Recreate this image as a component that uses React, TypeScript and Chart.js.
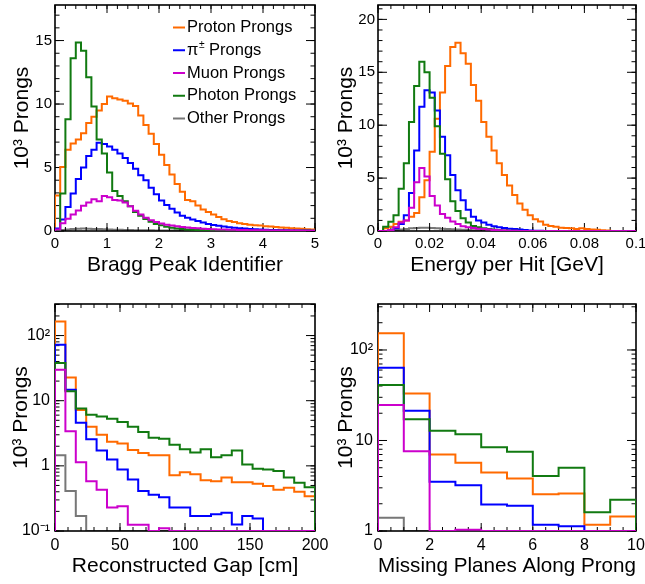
import React, { useEffect, useRef } from "react";
import { Chart, registerables } from "chart.js";

Chart.register(...registerables);

const FONT = "'Liberation Sans', Arial, Helvetica, sans-serif";
const PAGE_W = 645;
const PAGE_H = 584;

// ---------------- series (legend order) ----------------
const seriesNames = ["Proton Prongs", "π± Prongs", "Muon Prongs", "Photon Prongs", "Other Prongs"];
const seriesColors = ["#ff6a00", "#0000ff", "#cc00cc", "#117a11", "#777777"];
// higher = drawn earlier (underneath). "Other" is drawn first, then the frame, then the rest.
const seriesDrawOrder = [4, 3, 1, 2, 5];
const frameAfterSeries = 4;

// ---------------- Panel 1: Bragg Peak Identifier (bins of 0.1 from 0) ----------------
const braggBinStart = 0;
const braggBinWidth = 0.1;
const braggProton = [2.8, 5.05, 6.4, 6.9, 7.2, 7.7, 8.5, 9.0, 9.5, 10.0, 10.6, 10.45, 10.35, 10.25, 10.05, 9.85, 9.1, 8.35, 7.65, 6.85, 6.0, 5.2, 4.45, 3.7, 3.1, 2.45, 2.35, 2.0, 1.7, 1.5, 1.3, 1.1, 0.92, 0.78, 0.7, 0.62, 0.56, 0.5, 0.46, 0.43, 0.38, 0.35, 0.31, 0.28, 0.25, 0.22, 0.2, 0.17, 0.14, 0.12];
const braggPion = [0.2, 0.9, 1.9, 2.95, 4.1, 5.0, 5.9, 6.4, 6.95, 6.85, 6.65, 6.4, 6.1, 5.75, 5.35, 4.9, 4.4, 4.0, 3.4, 2.9, 2.4, 2.05, 1.75, 1.45, 1.2, 1.05, 0.9, 0.78, 0.66, 0.56, 0.48, 0.42, 0.36, 0.3, 0.26, 0.22, 0.19, 0.16, 0.13, 0.11, 0.09, 0.08, 0.07, 0.06, 0.05, 0.04, 0.04, 0.03, 0.03, 0.02];
const braggMuon = [0.12, 0.62, 0.97, 1.3, 1.62, 1.98, 2.24, 2.5, 2.35, 2.75, 2.65, 2.45, 2.4, 2.25, 1.95, 1.6, 1.3, 1.05, 0.85, 0.7, 0.6, 0.5, 0.43, 0.37, 0.32, 0.28, 0.24, 0.21, 0.18, 0.16, 0.14, 0.12, 0.11, 0.1, 0.09, 0.08, 0.07, 0.06, 0.06, 0.05, 0.05, 0.04, 0.04, 0.04, 0.03, 0.03, 0.03, 0.02, 0.02, 0.02];
const braggPhoton = [0.05, 2.95, 8.8, 13.6, 14.85, 14.2, 12.1, 9.8, 7.2, 6.1, 4.6, 3.15, 2.75, 2.35, 1.95, 1.5, 1.2, 0.95, 0.72, 0.55, 0.45, 0.34, 0.26, 0.2, 0.15, 0.12, 0.1, 0.08, 0.07, 0.06, 0.05, 0.04, 0.04, 0.03, 0.03, 0.02, 0.02, 0.02, 0.01, 0.01, 0.01, 0.01, 0.01, 0.01, 0.01, 0.01, 0.01, 0.01, 0.01, 0.01];
const braggOther = [0.04, 0.08, 0.12, 0.15, 0.17, 0.19, 0.18, 0.16, 0.15, 0.13, 0.12, 0.1, 0.09, 0.08, 0.07, 0.06, 0.06, 0.05, 0.05, 0.04, 0.04, 0.03, 0.03, 0.03, 0.02, 0.02, 0.02, 0.02, 0.02, 0.01, 0.01, 0.01, 0.01, 0.01, 0.01, 0.01, 0.01, 0.01, 0.01, 0.01, 0.01, 0.01, 0.01, 0.01, 0.01, 0.01, 0.01, 0.01, 0.01, 0.01];
const braggXTicks = [0, 1, 2, 3, 4, 5];
const braggXLabels = ["0", "1", "2", "3", "4", "5"];
const braggYTicks = [0, 5, 10, 15];
const braggYLabels = ["0", "5", "10", "15"];

// ---------------- Panel 2: Energy per Hit (bins of 0.002 GeV from 0) ----------------
const energyBinStart = 0;
const energyBinWidth = 0.002;
const energyProton = [0, 0.25, 0.4, 0.65, 0.88, 1.0, 1.35, 1.7, 3.2, 4.8, 7.5, 10.6, 13.1, 15.6, 17.4, 17.8, 16.8, 15.8, 13.8, 12.3, 10.3, 8.9, 7.6, 6.4, 5.3, 4.3, 3.4, 2.6, 2.0, 1.5, 1.1, 0.9, 0.6, 0.47, 0.4, 0.3, 0.28, 0.25, 0.2, 0.25, 0.2, 0.15, 0.12, 0.08, 0.05, 0, 0, 0, 0, 0];
const energyPion = [0, 0, 0.05, 0.25, 0.65, 1.5, 3.6, 7.6, 11.75, 13.3, 13.1, 11.4, 8.9, 7.15, 5.3, 3.85, 2.9, 2.0, 1.35, 1.0, 0.8, 0.6, 0.45, 0.35, 0.28, 0.22, 0.18, 0.14, 0.1, 0.05, 0.03, 0.02, 0.01, 0, 0, 0, 0, 0, 0, 0, 0, 0, 0, 0, 0, 0, 0, 0, 0, 0];
const energyMuon = [0, 0, 0.1, 0.35, 0.8, 1.0, 2.2, 4.6, 5.95, 5.15, 3.3, 2.4, 1.6, 1.25, 0.9, 0.65, 0.45, 0.35, 0.28, 0.22, 0.18, 0.14, 0.1, 0.07, 0.05, 0.03, 0.02, 0.01, 0, 0, 0, 0, 0, 0, 0, 0, 0, 0, 0, 0, 0, 0, 0, 0, 0, 0, 0, 0, 0, 0];
const energyPhoton = [0, 0.4, 0.88, 1.5, 4.0, 6.4, 10.3, 13.7, 16.0, 15.0, 12.6, 9.9, 7.3, 4.9, 2.8, 1.9, 1.2, 0.8, 0.47, 0.35, 0.25, 0.18, 0.12, 0.08, 0.05, 0.03, 0.02, 0.01, 0, 0, 0, 0, 0, 0, 0, 0, 0, 0, 0, 0, 0, 0, 0, 0, 0, 0, 0, 0, 0, 0];
const energyOther = [0, 0, 0.05, 0.1, 0.15, 0.2, 0.25, 0.28, 0.3, 0.3, 0.28, 0.25, 0.22, 0.2, 0.17, 0.15, 0.12, 0.1, 0.08, 0.06, 0.05, 0.04, 0.03, 0.02, 0.02, 0.01, 0.01, 0, 0, 0, 0, 0, 0, 0, 0, 0, 0, 0, 0, 0, 0, 0, 0, 0, 0, 0, 0, 0, 0, 0];
const energyXTicks = [0, 0.02, 0.04, 0.06, 0.08, 0.1];
const energyXLabels = ["0", "0.02", "0.04", "0.06", "0.08", "0.1"];
const energyYTicks = [0, 5, 10, 15, 20];
const energyYLabels = ["0", "5", "10", "15", "20"];

// ---------------- Panel 3: Reconstructed Gap (bins of 8 cm from 0) ----------------
const gapBinStart = 0;
const gapBinWidth = 8;
const gapProton = [164, 22.7, 7.2, 4.0, 3.0, 2.35, 2.2, 1.75, 1.58, 1.45, 1.45, 0.72, 0.8, 0.74, 0.6, 0.58, 0.66, 0.56, 0.56, 0.53, 0.49, 0.43, 0.46, 0.4, 0.34];
const gapPion = [72, 14.7, 4.6, 2.55, 1.72, 1.25, 0.88, 0.62, 0.41, 0.36, 0.33, 0.23, 0.23, 0.17, 0.17, 0.18, 0.19, 0.126, 0.17, 0.155, 0.05, 0.04, 0.03, 0.03, 0.02];
const gapMuon = [29.8, 3.4, 1.14, 0.58, 0.43, 0.23, 0.24, 0.125, 0.125, 0.09, 0.11, 0.08, 0.06, 0.05, 0.04, 0.03, 0.03, 0.02, 0.02, 0.02, 0.01, 0.01, 0.01, 0.01, 0.01];
const gapPhoton = [37.8, 14, 7.6, 6.1, 5.7, 5.3, 4.7, 4.0, 3.3, 2.7, 2.6, 2.1, 1.8, 1.6, 1.8, 1.35, 1.45, 1.72, 1.05, 0.9, 0.88, 0.83, 0.66, 0.55, 0.47];
const gapOther = [1.45, 0.41, 0.17, 0.08, 0.06, 0.05, 0.04, 0.03, 0.03, 0.02, 0.02, 0.02, 0.01, 0.01, 0.01, 0.01, 0.01, 0.01, 0.01, 0.01, 0.01, 0.01, 0.01, 0.01, 0.01];
const gapXTicks = [0, 50, 100, 150, 200];
const gapXLabels = ["0", "50", "100", "150", "200"];
const gapYTicks = [0.1, 1, 10, 100];
const gapYLabels = ["10⁻¹", "1", "10", "10²"];

// ---------------- Panel 4: Missing Planes Along Prong (bins of 1 from 0) ----------------
const planesBinStart = 0;
const planesBinWidth = 1;
const planesProton = [153, 33, 7.0, 5.66, 4.43, 3.8, 2.55, 2.59, 1.17, 1.45];
const planesPion = [63.7, 21.3, 3.49, 3.2, 1.96, 1.9, 1.17, 1.13, 0.5, 0.4];
const planesMuon = [24.6, 7.6, 0.5, 1.03, 0.5, 0.3, 0.2, 0.2, 0.1, 0.1];
const planesPhoton = [41, 17.2, 12.8, 11.7, 8.4, 7.5, 4.06, 5.0, 1.61, 2.22];
const planesOther = [1.4, 0.3, 0.1, 0.05, 0.03, 0.02, 0.01, 0.01, 0.01, 0.01];
const planesXTicks = [0, 2, 4, 6, 8, 10];
const planesXLabels = ["0", "2", "4", "6", "8", "10"];
const planesYTicks = [1, 10, 100];
const planesYLabels = ["1", "10", "10²"];

// ---------------- panel specs (layout + style) ----------------
type Area = { l: number; r: number; t: number; b: number };
type PanelSpec = {
  binStart: number;
  binWidth: number;
  series: number[][];
  xMin: number; xMax: number; yMin: number; yMax: number; yLog: boolean;
  xTicks: number[]; xLabels: string[]; yTicks: number[]; yLabels: string[];
  xMinorStep: number; yMinorStep: number;
  xTitle: string; yTitle: string;
  area: Area; yTitleX: number; xTitleY: number;
  tickFont: number; xLabelPad: number; yLabelPad: number;
  legend: boolean;
};

const panels: PanelSpec[] = [
  {
    binStart: braggBinStart, binWidth: braggBinWidth,
    series: [braggProton, braggPion, braggMuon, braggPhoton, braggOther],
    xMin: 0, xMax: 5, yMin: 0, yMax: 17.8, yLog: false,
    xTicks: braggXTicks, xLabels: braggXLabels, yTicks: braggYTicks, yLabels: braggYLabels,
    xMinorStep: 0.2, yMinorStep: 1,
    xTitle: "Bragg Peak Identifier", yTitle: "10³ Prongs",
    area: { l: 55, r: 315, t: 5, b: 231 }, yTitleX: 22.5, xTitleY: 265,
    tickFont: 15, xLabelPad: 3.5, yLabelPad: 3, legend: true,
  },
  {
    binStart: energyBinStart, binWidth: energyBinWidth,
    series: [energyProton, energyPion, energyMuon, energyPhoton, energyOther],
    xMin: 0, xMax: 0.1, yMin: 0, yMax: 21.36, yLog: false,
    xTicks: energyXTicks, xLabels: energyXLabels, yTicks: energyYTicks, yLabels: energyYLabels,
    xMinorStep: 0.005, yMinorStep: 1,
    xTitle: "Energy per Hit [GeV]", yTitle: "10³ Prongs",
    area: { l: 378, r: 636, t: 5, b: 231 }, yTitleX: 346, xTitleY: 265,
    tickFont: 15, xLabelPad: 3.5, yLabelPad: 3, legend: false,
  },
  {
    binStart: gapBinStart, binWidth: gapBinWidth,
    series: [gapProton, gapPion, gapMuon, gapPhoton, gapOther],
    xMin: 0, xMax: 200, yMin: 0.1, yMax: 305, yLog: true,
    xTicks: gapXTicks, xLabels: gapXLabels, yTicks: gapYTicks, yLabels: gapYLabels,
    xMinorStep: 10, yMinorStep: 0,
    xTitle: "Reconstructed Gap [cm]", yTitle: "10³ Prongs",
    area: { l: 55, r: 315, t: 304, b: 531 }, yTitleX: 21, xTitleY: 566,
    tickFont: 16, xLabelPad: 4.5, yLabelPad: 5, legend: false,
  },
  {
    binStart: planesBinStart, binWidth: planesBinWidth,
    series: [planesProton, planesPion, planesMuon, planesPhoton, planesOther],
    xMin: 0, xMax: 10, yMin: 1, yMax: 322, yLog: true,
    xTicks: planesXTicks, xLabels: planesXLabels, yTicks: planesYTicks, yLabels: planesYLabels,
    xMinorStep: 0.5, yMinorStep: 0,
    xTitle: "Missing Planes Along Prong", yTitle: "10³ Prongs",
    area: { l: 378, r: 636, t: 304, b: 531 }, yTitleX: 346, xTitleY: 566,
    tickFont: 16, xLabelPad: 4.5, yLabelPad: 5, legend: false,
  },
];

const LEGEND = { y0: 27.5, dy: 22.75, lineX0: 173, lineX1: 185, textX: 187, size: 16.5 };
const TITLE_SIZE = 21;

// ---------------- helpers ----------------
function stepPoints(start: number, width: number, values: number[], base: number) {
  const pts: { x: number; y: number }[] = [{ x: start, y: base }];
  values.forEach((v, i) => pts.push({ x: start + i * width, y: Math.max(v, base) }));
  const end = start + values.length * width;
  pts.push({ x: end, y: Math.max(values[values.length - 1], base) });
  pts.push({ x: end, y: base });
  return pts;
}

function linearMinors(min: number, max: number, step: number) {
  const out: number[] = [];
  const n = Math.floor((max - min) / step + 1e-6);
  for (let i = 0; i <= n; i++) out.push(min + i * step);
  return out;
}

function logMinors(min: number, max: number) {
  const out: number[] = [];
  for (let d = Math.floor(Math.log10(min)); d <= Math.ceil(Math.log10(max)); d++) {
    for (let k = 1; k <= 9; k++) {
      const v = k * Math.pow(10, d);
      if (v >= min * 0.9999 && v <= max * 1.0001) out.push(v);
    }
  }
  return out;
}

function drawFrame(chart: any, spec: PanelSpec) {
  const { ctx, chartArea: a, scales } = chart;
  const xs = scales.x;
  const ys = scales.y;
  const xMinor = linearMinors(spec.xMin, spec.xMax, spec.xMinorStep);
  const yMinor = spec.yLog ? logMinors(spec.yMin, spec.yMax) : linearMinors(spec.yMin, spec.yMax, spec.yMinorStep);
  ctx.save();
  ctx.strokeStyle = "#000";
  ctx.lineWidth = 1;
  ctx.beginPath();
  const tickX = (v: number, len: number) => {
    const px = xs.getPixelForValue(v);
    ctx.moveTo(px, a.bottom);
    ctx.lineTo(px, a.bottom - len);
    ctx.moveTo(px, a.top);
    ctx.lineTo(px, a.top + len);
  };
  const tickY = (v: number, len: number) => {
    const py = ys.getPixelForValue(v);
    ctx.moveTo(a.left, py);
    ctx.lineTo(a.left + len, py);
    ctx.moveTo(a.right, py);
    ctx.lineTo(a.right - len, py);
  };
  xMinor.forEach((v) => tickX(v, 4));
  spec.xTicks.forEach((v) => tickX(v, 8));
  yMinor.forEach((v) => tickY(v, 4.5));
  spec.yTicks.forEach((v) => tickY(v, 9));
  ctx.stroke();
  ctx.lineWidth = 1.6;
  ctx.strokeRect(a.left, a.top, a.right - a.left, a.bottom - a.top);
  ctx.restore();
}

function framePlugin(spec: PanelSpec) {
  return {
    id: "rootFrame",
    afterDatasetDraw(chart: any, args: any) {
      if (args.index === frameAfterSeries) drawFrame(chart, spec);
    },
  };
}

function legendPlugin() {
  return {
    id: "rootLegend",
    afterDraw(chart: any) {
      const ctx = chart.ctx;
      ctx.save();
      ctx.textBaseline = "middle";
      ctx.textAlign = "left";
      seriesNames.forEach((name, i) => {
        const y = LEGEND.y0 + i * LEGEND.dy;
        ctx.strokeStyle = seriesColors[i];
        ctx.lineWidth = 2;
        ctx.beginPath();
        ctx.moveTo(LEGEND.lineX0, y);
        ctx.lineTo(LEGEND.lineX1, y);
        ctx.stroke();
        ctx.fillStyle = "#000";
        ctx.font = `${LEGEND.size}px ${FONT}`;
        if (name.startsWith("π±")) {
          let x = LEGEND.textX;
          ctx.fillText("π", x, y);
          x += ctx.measureText("π").width + 0.5;
          ctx.font = `${LEGEND.size * 0.62}px ${FONT}`;
          ctx.fillText("±", x, y - LEGEND.size * 0.3);
          x += ctx.measureText("±").width;
          ctx.font = `${LEGEND.size}px ${FONT}`;
          ctx.fillText(name.slice(2), x, y);
        } else {
          ctx.fillText(name, LEGEND.textX, y);
        }
      });
      ctx.restore();
    },
  };
}

function Panel({ spec }: { spec: PanelSpec }) {
  const ref = useRef<HTMLCanvasElement | null>(null);
  useEffect(() => {
    if (!ref.current) return;
    const half = (TITLE_SIZE * 1.2) / 2;
    const padLeft = spec.yTitleX - half;
    const yAxisWidth = spec.area.l - padLeft;
    const xAxisBottom = spec.xTitleY + half;
    const xAxisHeight = xAxisBottom - spec.area.b;
    const base = spec.yLog ? spec.yMin : 0;
    const datasets = spec.series.map((vals, i) => ({
      label: seriesNames[i],
      data: stepPoints(spec.binStart, spec.binWidth, vals, base),
      borderColor: seriesColors[i],
      backgroundColor: seriesColors[i],
      borderWidth: 2,
      pointRadius: 0,
      stepped: true,
      fill: false,
      tension: 0,
      order: seriesDrawOrder[i],
    }));
    const plugins: any[] = [framePlugin(spec)];
    if (spec.legend) plugins.push(legendPlugin());
    const chart = new Chart(ref.current, {
      type: "line",
      data: { datasets },
      plugins,
      options: {
        animation: false,
        responsive: false,
        maintainAspectRatio: false,
        devicePixelRatio: 1,
        events: [],
        layout: {
          padding: {
            left: padLeft,
            right: PAGE_W - spec.area.r,
            top: spec.area.t,
            bottom: PAGE_H - xAxisBottom,
          },
        },
        plugins: { legend: { display: false }, tooltip: { enabled: false } },
        scales: {
          x: {
            type: "linear",
            position: "bottom",
            min: spec.xMin,
            max: spec.xMax,
            grid: { display: false, drawTicks: false, tickLength: 0 },
            border: { display: false },
            ticks: {
              autoSkip: false,
              maxRotation: 0,
              minRotation: 0,
              padding: spec.xLabelPad,
              color: "#000",
              font: { family: FONT, size: spec.tickFont },
              callback: (_v: any, idx: number) => spec.xLabels[idx],
            },
            title: {
              display: true,
              text: spec.xTitle,
              color: "#000",
              padding: 0,
              font: { family: FONT, size: TITLE_SIZE },
            },
            afterBuildTicks: (s: any) => {
              s.ticks = spec.xTicks.map((v) => ({ value: v }));
            },
            afterFit: (s: any) => {
              s.height = xAxisHeight;
              s.paddingLeft = 0;
              s.paddingRight = 0;
              s.paddingTop = 0;
              s.paddingBottom = 0;
            },
          },
          y: {
            type: spec.yLog ? "logarithmic" : "linear",
            position: "left",
            min: spec.yMin,
            max: spec.yMax,
            grid: { display: false, drawTicks: false, tickLength: 0 },
            border: { display: false },
            ticks: {
              autoSkip: false,
              padding: spec.yLabelPad,
              color: "#000",
              font: { family: FONT, size: spec.tickFont },
              callback: (_v: any, idx: number) => spec.yLabels[idx],
            },
            title: {
              display: true,
              text: spec.yTitle,
              color: "#000",
              padding: 0,
              font: { family: FONT, size: TITLE_SIZE },
            },
            afterBuildTicks: (s: any) => {
              s.ticks = spec.yTicks.map((v) => ({ value: v }));
            },
            afterFit: (s: any) => {
              s.width = yAxisWidth;
              s.paddingLeft = 0;
              s.paddingRight = 0;
              s.paddingTop = 0;
              s.paddingBottom = 0;
            },
          },
        },
      } as any,
    } as any);
    return () => chart.destroy();
  }, [spec]);
  return (
    <canvas
      ref={ref}
      width={PAGE_W}
      height={PAGE_H}
      style={{ position: "absolute", left: 0, top: 0, width: PAGE_W, height: PAGE_H }}
    />
  );
}

export default function App() {
  return (
    <div
      style={{
        position: "fixed",
        left: 0,
        top: 0,
        width: PAGE_W,
        height: PAGE_H,
        background: "#fff",
        overflow: "hidden",
      }}
    >
      {panels.map((p, i) => (
        <Panel key={i} spec={p} />
      ))}
    </div>
  );
}
